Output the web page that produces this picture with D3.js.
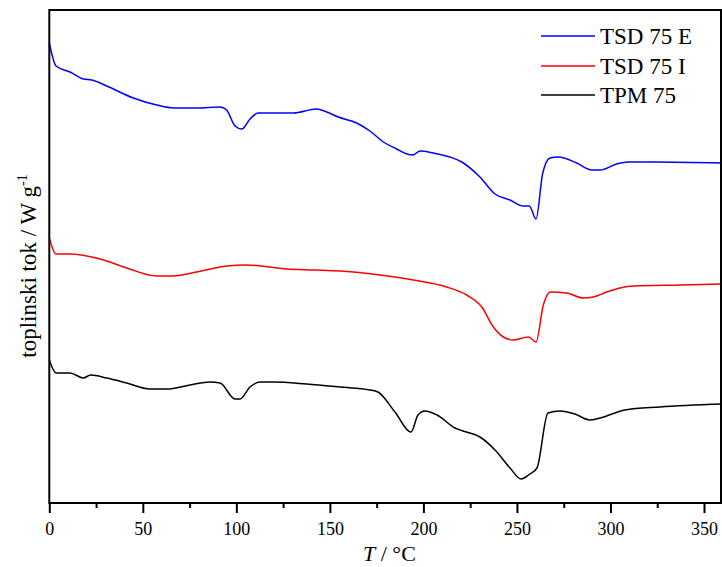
<!DOCTYPE html>
<html><head><meta charset="utf-8">
<script src="https://cdn.jsdelivr.net/npm/d3@7"></script>
<style>body{margin:0;background:#fff}svg{display:block}text{font-family:"Liberation Serif","Times New Roman",serif}</style>
</head><body><svg id="c" width="722" height="567"></svg>
<script>
// Temperature (°C) and heat flow (arbitrary units, offset traces)
const seriesNames = ["TSD 75 E", "TSD 75 I", "TPM 75"];
const seriesColors = ["#0000ff", "#ff0000", "#000000"];
const tsdE_T = [0,3.6,11.1,18.2,22.7,30.7,44.9,57.4,66.3,78.8,91.3,94.8,99.3,102.9,107.3,111.7,123.3,130.4,142.9,148.3,154.5,164.3,171.4,178.6,185.7,191.1,194.3,198.2,205.3,214.2,220.5,230.2,238.3,246.3,253.4,256.6,260.2,263.8,267.7,272.1,281.9,290.0,294.4,303.3,309.5,323.8,360];
const tsdE_Q = [4.60,4.37,4.31,4.24,4.23,4.17,4.05,3.98,3.95,3.95,3.96,3.93,3.77,3.74,3.84,3.90,3.90,3.90,3.94,3.91,3.86,3.80,3.72,3.61,3.54,3.49,3.48,3.52,3.50,3.46,3.41,3.26,3.09,3.03,2.97,2.97,2.84,3.30,3.45,3.46,3.40,3.33,3.33,3.39,3.41,3.41,3.40];
const tsdI_T = [0,3.6,11.1,27.1,41.4,57.4,66.3,78.8,94.8,105.5,126.9,142.9,162.5,176.8,194.6,212.4,223.1,231.2,237.4,242.7,248.0,256.1,260.2,264.1,268.0,276.6,285.5,290.8,298.0,305.1,312.2,337.2,360];
const tsdI_Q = [2.65,2.49,2.49,2.44,2.35,2.27,2.27,2.31,2.37,2.38,2.34,2.33,2.31,2.28,2.23,2.16,2.08,1.96,1.76,1.66,1.63,1.66,1.61,1.98,2.11,2.10,2.05,2.06,2.11,2.15,2.17,2.18,2.19];
const tpm_T = [0,3.6,11.1,18.2,22.1,30.7,41.4,53.8,62.8,75.2,85.9,91.3,99.3,101.9,107.3,112.6,119.7,137.6,155.4,171.4,175.7,184.8,193.4,197.1,200.8,207.3,216.9,221.2,230.2,238.3,246.3,252.2,256.9,260.7,266.6,273.0,281.0,289.0,294.4,307.7,326.4,360];
const tpm_Q = [1.43,1.30,1.30,1.25,1.28,1.25,1.20,1.14,1.14,1.18,1.21,1.20,1.04,1.04,1.16,1.21,1.21,1.19,1.16,1.13,1.11,0.91,0.71,0.88,0.92,0.88,0.75,0.72,0.66,0.53,0.35,0.24,0.29,0.35,0.90,0.92,0.89,0.83,0.85,0.93,0.96,0.99];
const xMajorTicks = [0,50,100,150,200,250,300,350];
const xMinorTicks = [25,75,125,175,225,275,325];

const svg = d3.select("#c");
const L = 49.3, T0 = 10, B = 503, Rframe = 721;
const x = d3.scaleLinear().domain([0,360]).range([L, 722.7]);
const y = d3.scaleLinear().domain([0,4.93]).range([B, T0]);

const series = [
  {T: tsdE_T, Q: tsdE_Q},
  {T: tsdI_T, Q: tsdI_Q},
  {T: tpm_T, Q: tpm_Q}
];
const line = d3.line().curve(d3.curveMonotoneX).x(d => x(d[0])).y(d => y(d[1]));
series.forEach((s, i) => {
  svg.append("path").datum(s.T.map((t, j) => [t, s.Q[j]]))
    .attr("d", line).attr("fill", "none")
    .attr("stroke", seriesColors[i]).attr("stroke-width", 1.5)
    .attr("stroke-linejoin", "round");
});

// frame
svg.append("rect").attr("x", L).attr("y", T0).attr("width", Rframe - L).attr("height", B - T0)
  .attr("fill", "none").attr("stroke", "#000").attr("stroke-width", 2);

// x axis
const ax = svg.append("g").attr("transform", `translate(0,${B})`)
  .call(d3.axisBottom(x).tickValues(xMajorTicks).tickSize(10).tickSizeOuter(0).tickPadding(9).tickFormat(d3.format("d")));
ax.select(".domain").remove();
ax.selectAll("line").attr("stroke-width", 2);
ax.selectAll("text").attr("font-size", 18).attr("fill", "#000").style("font-family", '"Liberation Serif", serif');
const axm = svg.append("g").attr("transform", `translate(0,${B})`)
  .call(d3.axisBottom(x).tickValues(xMinorTicks).tickSize(5).tickSizeOuter(0).tickFormat(""));
axm.select(".domain").remove();
axm.selectAll("line").attr("stroke-width", 2);

// axis titles
const xt = svg.append("text").attr("x", 363).attr("y", 561).attr("font-size", 22).attr("fill", "#000");
xt.append("tspan").attr("font-style", "italic").text("T");
xt.append("tspan").text(" / °C");

const yt = svg.append("text").attr("transform", "translate(36,266) rotate(-90)")
  .attr("text-anchor", "middle").attr("font-size", 23).attr("fill", "#000");
yt.append("tspan").text("toplinski tok / W g");
yt.append("tspan").attr("dy", -9).attr("font-size", 14).text("-1");

// legend
const lg = svg.append("g");
const ly = [36, 66, 95];
seriesNames.forEach((n, i) => {
  lg.append("line").attr("x1", 541).attr("x2", 595).attr("y1", ly[i]).attr("y2", ly[i])
    .attr("stroke", seriesColors[i]).attr("stroke-width", 1.5);
  lg.append("text").attr("x", 600).attr("y", ly[i] + 8).attr("font-size", 23).attr("fill", "#000").text(n);
});
</script></body></html>
